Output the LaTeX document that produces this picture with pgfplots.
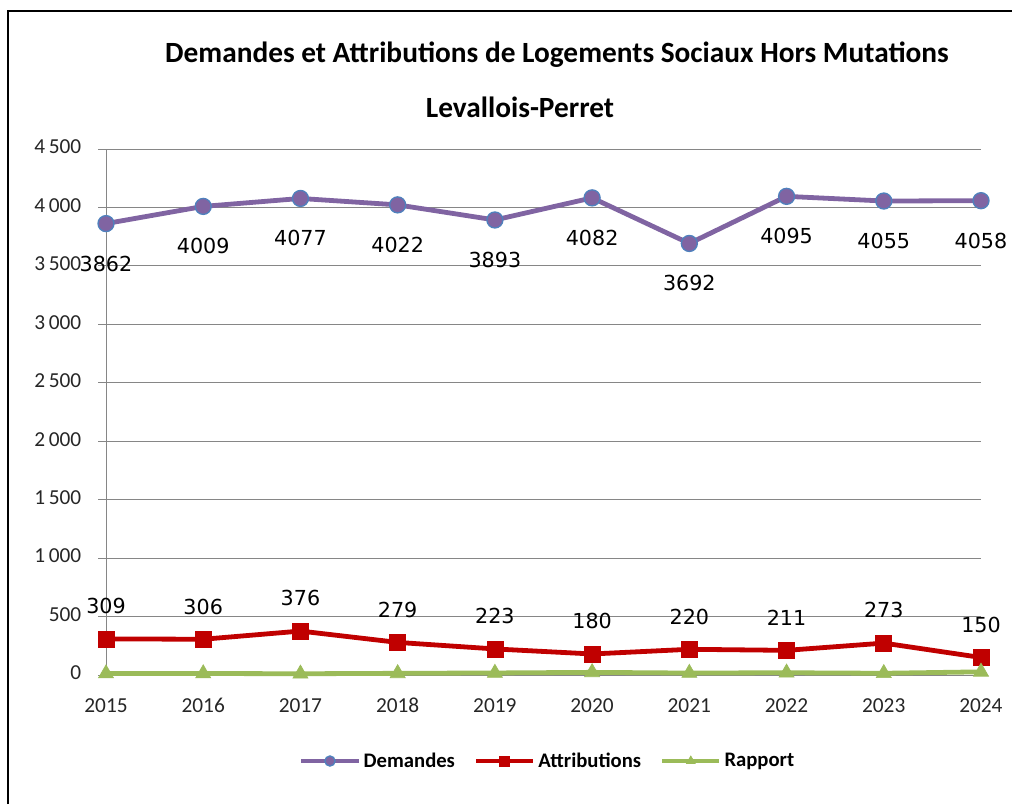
\documentclass[border=0pt]{standalone}
\usepackage{pgfplots}
\pgfplotsset{compat=1.18}
\usepackage{fontspec}
\setmainfont{Carlito}
\newfontfamily\dejavu{DejaVu Sans}
\definecolor{cpurple}{HTML}{8064A2}
\definecolor{cblue}{HTML}{4F81BD}
\definecolor{cred}{HTML}{C00000}
\definecolor{cgreen}{HTML}{9BBB59}
\definecolor{cgrid}{HTML}{868686}
\begin{document}
\begin{tikzpicture}
\useasboundingbox (0,0) rectangle (759pt,-603pt);
% frame
\draw[black, line width=1.6pt] ({8*0.75pt},-603pt) -- ({8*0.75pt},{-11*0.75pt}) -- (759pt,{-11*0.75pt});
% titles
\node[font=\fontsize{22}{24}\selectfont\bfseries] at ({557*0.75pt},{-55*0.75pt}) {Demandes et Attributions de Logements Sociaux Hors Mutations};
\node[font=\fontsize{22}{24}\selectfont\bfseries] at ({520*0.75pt},{-107*0.75pt}) {Levallois-Perret};
\begin{axis}[
  at={({106*0.75pt},{-675*0.75pt})}, anchor=south west,
  scale only axis, width={875*0.75pt}, height={526*0.75pt},
  xmin=2015, xmax=2024, ymin=0, ymax=4500,
  clip=false,
  axis lines*=left,
  axis line style={cgrid, line width=0.75pt},
  xtick={2015,...,2024},
  xticklabels={2015,2016,2017,2018,2019,2020,2021,2022,2023,2024},
  ytick={0,500,...,4500},
  yticklabels={0,500,1\,000,1\,500,2\,000,2\,500,3\,000,3\,500,4\,000,4\,500},
  tick label style={font=\fontsize{16}{18}\selectfont, text=black!85},
  typeset ticklabels with strut,
  xtick style={draw=none},
  ytick style={cgrid, line width=0.75pt},
  tick align=outside, major tick length=6pt,
  ymajorgrids, grid style={cgrid, line width=0.75pt},
  xticklabel style={yshift=-6pt},
  yticklabel style={xshift=-9pt},
  legend columns=3,
  legend style={at={(rel axis cs:0.505,-0.1635)}, anchor=center, draw=none, fill=none,
    font=\fontsize{15.5}{17}\selectfont\bfseries,
    /tikz/every even column/.append style={column sep=12pt}},
  legend image code/.code={\draw[mark repeat=2,mark phase=2,mark size=3.8pt,#1] plot coordinates {(0pt,0pt) (21.5pt,0pt) (43pt,0pt)};},
  nodes near coords style={font=\dejavu\fontsize{15.5}{17}\selectfont, text=black},
]
\addplot[cpurple, line width=3.6pt, mark=*, mark size=6pt,
  mark options={fill=cpurple, draw=cblue, line width=1pt},
  nodes near coords={\pgfmathprintnumber[1000 sep={},assume math mode=true]{\pgfplotspointmeta}},
  every node near coord/.append style={anchor=center, yshift=-30pt}]
  coordinates {(2015,3862) (2016,4009) (2017,4077) (2018,4022) (2019,3893) (2020,4082) (2021,3692) (2022,4095) (2023,4055) (2024,4058)};
\addlegendentry{Demandes}
\addplot[cred, line width=3.6pt, mark=square*, mark size=6pt,
  mark options={fill=cred, draw=cred, line width=0.5pt},
  nodes near coords={\pgfmathprintnumber[1000 sep={},assume math mode=true]{\pgfplotspointmeta}},
  every node near coord/.append style={anchor=center, yshift=24.5pt}]
  coordinates {(2015,309) (2016,306) (2017,376) (2018,279) (2019,223) (2020,180) (2021,220) (2022,211) (2023,273) (2024,150)};
\addlegendentry{Attributions}
\addplot[cgreen, line width=3.6pt, mark=triangle*, mark size=6.5pt,
  mark options={fill=cgreen, draw=cgreen, line width=0.5pt}]
  coordinates {(2015,12.5) (2016,13.1) (2017,10.8) (2018,14.4) (2019,17.5) (2020,22.7) (2021,16.8) (2022,19.4) (2023,14.9) (2024,27.1)};
\addlegendentry{Rapport}
\end{axis}
\end{tikzpicture}
\end{document}
